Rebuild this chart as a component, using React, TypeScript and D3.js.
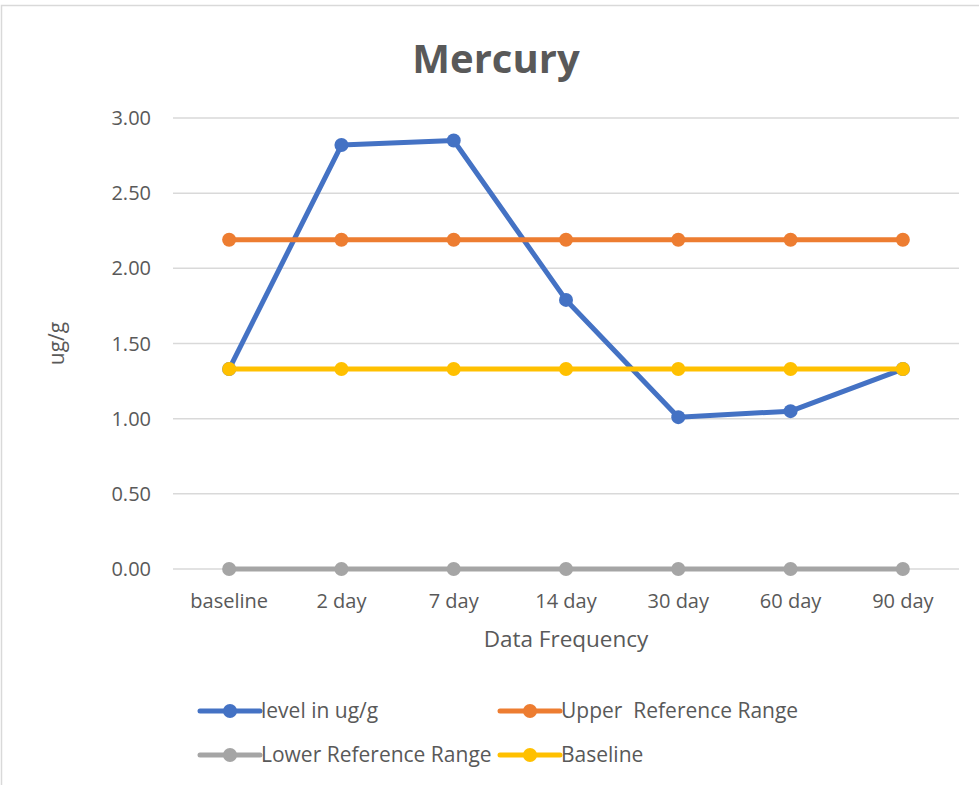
import React from "react";
import * as d3 from "d3";

const categories = ["baseline", "2 day", "7 day", "14 day", "30 day", "60 day", "90 day"];
const levelValues = [1.33, 2.82, 2.85, 1.79, 1.01, 1.05, 1.33];
const upperValues = [2.19, 2.19, 2.19, 2.19, 2.19, 2.19, 2.19];
const lowerValues = [0, 0, 0, 0, 0, 0, 0];
const baselineValues = [1.33, 1.33, 1.33, 1.33, 1.33, 1.33, 1.33];
const yTicks = [0, 0.5, 1, 1.5, 2, 2.5, 3];

const seriesList = [
  { name: "level in ug/g", values: levelValues, color: "#4472C4" },
  { name: "Upper  Reference Range", values: upperValues, color: "#ED7D31" },
  { name: "Lower Reference Range", values: lowerValues, color: "#A5A5A5" },
  { name: "Baseline", values: baselineValues, color: "#FFC000" },
];

const W = 979;
const H = 785;
const left = 173;
const right = 959;
const top = 118;
const bottom = 569;
const font = "'Open Sans', 'Noto Sans', sans-serif";

export default function App() {
  const x = d3.scalePoint<string>().domain(categories).range([left, right]).padding(0.5);
  const y = d3.scaleLinear().domain([0, 3]).range([bottom, top]);
  const line = d3
    .line<number>()
    .x((_, i) => x(categories[i]) as number)
    .y((d) => y(d));

  const legendItems = [
    { s: seriesList[0], lx: 200, ly: 711 },
    { s: seriesList[1], lx: 500, ly: 711 },
    { s: seriesList[2], lx: 200, ly: 755 },
    { s: seriesList[3], lx: 500, ly: 755 },
  ];

  return (
    <svg width={W} height={H} style={{ position: "absolute", left: 0, top: 0, background: "#fff" }}>
      <rect x={1.5} y={5.5} width={W + 10} height={H + 10} fill="#fff" stroke="#D9D9D9" strokeWidth={1.5} />
      <text x={496} y={73} textAnchor="middle" fontFamily={font} fontWeight={700} fontSize={40} fill="#595959">
        Mercury
      </text>
      {yTicks.map((t) => (
        <g key={t}>
          <line x1={left} x2={right} y1={y(t)} y2={y(t)} stroke="#D9D9D9" strokeWidth={1.5} />
          <text x={151} y={y(t)} dy="0.35em" textAnchor="end" fontFamily={font} fontSize={20} fill="#595959">
            {t.toFixed(2)}
          </text>
        </g>
      ))}
      {categories.map((c) => (
        <text key={c} x={x(c)} y={608} textAnchor="middle" fontFamily={font} fontSize={20} fill="#595959">
          {c}
        </text>
      ))}
      <text x={566} y={647} textAnchor="middle" fontFamily={font} fontSize={22.5} fill="#595959">
        Data Frequency
      </text>
      <text
        transform={`translate(64,${(top + bottom) / 2}) rotate(-90)`}
        textAnchor="middle"
        fontFamily={font}
        fontSize={21}
        fill="#595959"
      >
        ug/g
      </text>
      {seriesList.map((s) => (
        <g key={s.name}>
          <path d={line(s.values) || ""} fill="none" stroke={s.color} strokeWidth={5} strokeLinejoin="round" />
          {s.values.map((v, i) => (
            <circle key={i} cx={x(categories[i])} cy={y(v)} r={7} fill={s.color} />
          ))}
        </g>
      ))}
      {legendItems.map(({ s, lx, ly }) => (
        <g key={s.name}>
          <line x1={lx} x2={lx + 60} y1={ly} y2={ly} stroke={s.color} strokeWidth={5} strokeLinecap="round" />
          <circle cx={lx + 30} cy={ly} r={7} fill={s.color} />
          <text
            x={lx + 61}
            y={ly}
            dy="0.35em"
            fontFamily={font}
            fontSize={21}
            fill="#595959"
            style={{ whiteSpace: "pre" }}
          >
            {s.name}
          </text>
        </g>
      ))}
    </svg>
  );
}
